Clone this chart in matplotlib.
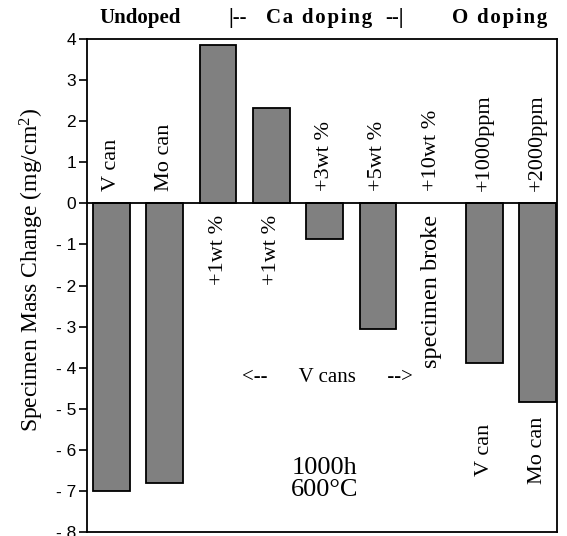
import matplotlib.pyplot as plt
import numpy as np

# mass change after 1000 h at 600 C, mg/cm2 (None = specimen broke)
slots = ["V can", "Mo can", "+1wt %", "+1wt %", "+3wt %", "+5wt %", "+10wt %", "+1000ppm", "+2000ppm"]
values = [-7.0, -6.8, 3.85, 2.32, -0.87, -3.05, None, -3.88, -4.83]
# where each slot label goes: above or below the zero line
label_side = ["up", "up", "down", "down", "up", "up", "up", "up", "up"]
yticks = [4, 3, 2, 1, 0, -1, -2, -3, -4, -5, -6, -7, -8]

serif = "Liberation Serif"
sans = "Liberation Sans"
plt.rcParams["mathtext.fontset"] = "custom"
plt.rcParams["mathtext.rm"] = serif
plt.rcParams["mathtext.it"] = serif + ":italic"

fig = plt.figure(figsize=(5.67, 5.36), dpi=100)
ax = fig.add_axes([87 / 567, 1 - 532 / 536, 470 / 567, 493 / 536])

xpos = np.arange(len(slots))
heights = [v if v is not None else 0 for v in values]
bars = ax.bar(xpos, heights, width=0.69, color="#808080", edgecolor="black", linewidth=1.3)
for b, v in zip(bars, values):
    if v is None:
        b.set_visible(False)

ax.axhline(0, color="black", linewidth=1.3)
ax.set_xlim(-0.46, 8.36)
ax.set_ylim(-8, 4)
ax.set_xticks([])
ax.set_yticks(yticks)
ax.set_yticklabels([str(t) if t >= 0 else "- %d" % -t for t in yticks], family=sans, fontsize=12.5)
ax.tick_params(axis="y", direction="out", length=6, width=1.2, pad=2)
for s in ax.spines.values():
    s.set_linewidth(1.3)

# slot labels
lab_size = 16
for x, lab, side in zip(xpos, slots, label_side):
    if side == "up":
        ax.text(x, 0.3, lab, rotation=90, ha="center", va="bottom", family=serif, fontsize=lab_size)
    else:
        ax.text(x, -0.28, lab, rotation=90, ha="center", va="top", family=serif, fontsize=lab_size)

ax.text(6, -0.28, "specimen broke", rotation=90, ha="center", va="top", family=serif, fontsize=17.5)
ax.text(7, -6.0, "V can", rotation=90, ha="center", va="center", family=serif, fontsize=lab_size)
ax.text(8, -6.0, "Mo can", rotation=90, ha="center", va="center", family=serif, fontsize=lab_size)

ax.text(4.05, -4.25, "<--      V cans      -->", ha="center", va="center", family=serif, fontsize=15)
ax.text(4.0, -6.7, "1000h\n600\u00b0C", ha="center", va="center", family=serif, fontsize=19,
        linespacing=1.0)

# group headers above the frame
hs = "\u200a"
hdr = dict(ha="center", va="center", family=[serif, "DejaVu Serif"], fontsize=15, fontweight="bold")
fig.text(140 / 567, 1 - 18 / 536, "Undoped", **hdr)
fig.text(238 / 567, 1 - 18 / 536, "|--", **hdr)
fig.text(319 / 567, 1 - 18 / 536, hs.join("Ca doping"), **hdr)
fig.text(395 / 567, 1 - 18 / 536, "--|", **hdr)
fig.text(500 / 567, 1 - 18 / 536, hs.join("O doping"), **hdr)

fig.text(32 / 567, 1 - 270 / 536, "Specimen Mass Change (mg/cm$^2$)", rotation=90,
         ha="center", va="center", family=serif, fontsize=17)

fig.savefig("out.png", dpi=100)
